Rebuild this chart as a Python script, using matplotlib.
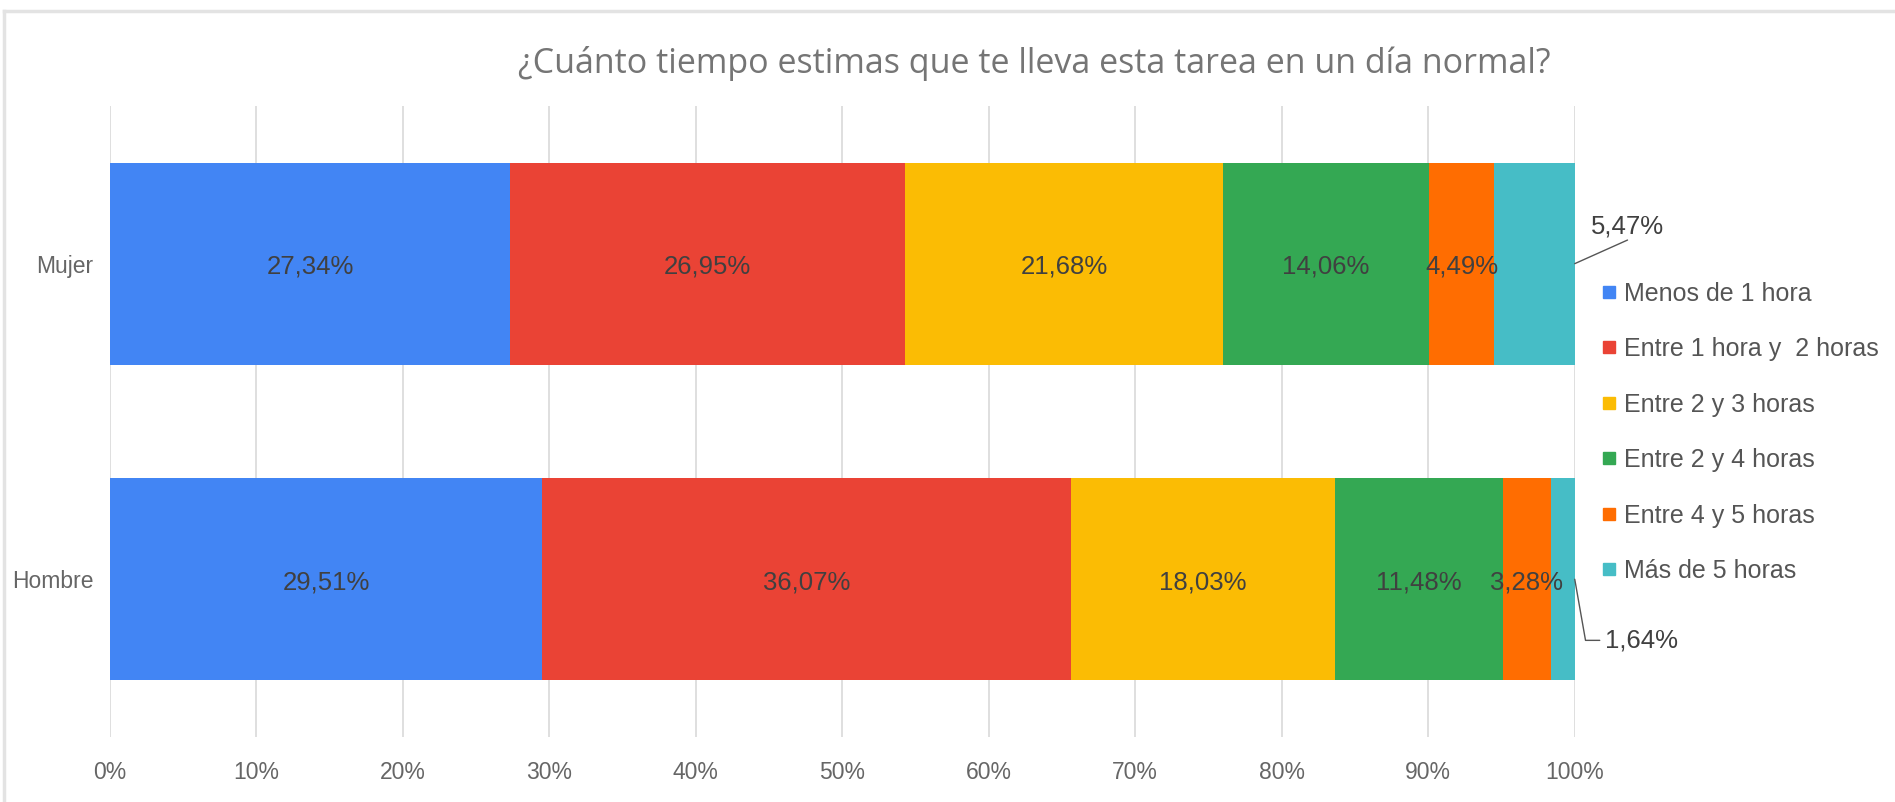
import matplotlib.pyplot as plt
from matplotlib.lines import Line2D
import numpy as np

plt.rcParams['font.family'] = ['Liberation Sans', 'DejaVu Sans']

groups = ['Hombre', 'Mujer']
categorias = ['Menos de 1 hora', 'Entre 1 hora y  2 horas', 'Entre 2 y 3 horas',
              'Entre 2 y 4 horas', 'Entre 4 y 5 horas', 'Más de 5 horas']
hombre = [29.51, 36.07, 18.03, 11.48, 3.28, 1.64]
mujer = [27.34, 26.95, 21.68, 14.06, 4.49, 5.47]
colores = ['#4285F4', '#EA4335', '#FBBC04', '#34A853', '#FF6D01', '#46BDC6']
xticks = [0, 10, 20, 30, 40, 50, 60, 70, 80, 90, 100]

datos = np.array([hombre, mujer])
ypos = np.arange(len(groups))

fig = plt.figure(figsize=(18.95, 8.02), dpi=100)
ax = fig.add_axes([0.058, 0.081, 0.773, 0.787])

left = np.zeros(len(groups))
for i, cat in enumerate(categorias):
    vals = datos[:, i]
    ax.barh(ypos, vals, left=left, height=0.64, color=colores[i], zorder=2)
    for j in range(len(groups)):
        # la ultima categoria va con linea aparte
        if i == 5:
            continue
        ax.text(left[j] + vals[j] / 2, ypos[j] - 0.01, f'{vals[j]:.2f}%'.replace('.', ','),
                ha='center', va='center', fontsize=18.5, color='#404040', zorder=3)
    left += vals

# etiquetas fuera de la barra para "Más de 5 horas"
ax.annotate('', xy=(100, 1), xytext=(38, 17), textcoords='offset points',
            arrowprops=dict(arrowstyle='-', color='#555555', lw=1, shrinkA=0, shrinkB=0))
ax.annotate(f'{mujer[5]:.2f}%'.replace('.', ','), xy=(100, 1), xytext=(38, 27),
            textcoords='offset points', ha='center', va='center', fontsize=18.5, color='#404040')
ax.annotate(f'{hombre[5]:.2f}%'.replace('.', ','), xy=(100, 0), xytext=(22, -44),
            textcoords='offset points', ha='left', va='center', fontsize=18.5, color='#404040',
            arrowprops=dict(arrowstyle='-', color='#555555', lw=1, shrinkA=2, shrinkB=0,
                            connectionstyle='angle,angleA=180,angleB=100,rad=0'))

ax.set_xlim(0, 100)
ax.set_ylim(-0.5, 1.5)
ax.set_xticks(xticks)
ax.set_xticklabels([f'{t}%' for t in xticks], fontsize=16.5, color='#666666')
ax.set_yticks(ypos)
ax.set_yticklabels(groups, fontsize=16.5, color='#666666')
ax.tick_params(axis='x', length=0, pad=17)
ax.tick_params(axis='y', length=0, pad=12)
ax.grid(axis='x', color='#d9d9d9', lw=1.2, zorder=0)
for s in ax.spines.values():
    s.set_visible(False)

fig.text(0.546, 0.921, '¿Cuánto tiempo estimas que te lleva esta tarea en un día normal?',
         ha='center', va='center', fontsize=24.5, color='#757575', family=['Open Sans', 'DejaVu Sans'])

handles = [Line2D([], [], marker='s', linestyle='none', markersize=9, color=c) for c in colores]
fig.legend(handles, categorias, loc='center left', bbox_to_anchor=(0.8385, 0.461),
           frameon=False, fontsize=18, labelcolor='#555555', handlelength=0.6,
           handletextpad=0.3, labelspacing=1.26, borderpad=0)

# marco gris
fig.add_artist(Line2D([4 / 1895, 4 / 1895], [0, 1 - 11 / 802], transform=fig.transFigure,
                      color='#e3e3e3', lw=2.5))
fig.add_artist(Line2D([4 / 1895, 1], [1 - 11 / 802, 1 - 11 / 802], transform=fig.transFigure,
                      color='#e3e3e3', lw=2.5))

fig.savefig('out.png', dpi=100)
